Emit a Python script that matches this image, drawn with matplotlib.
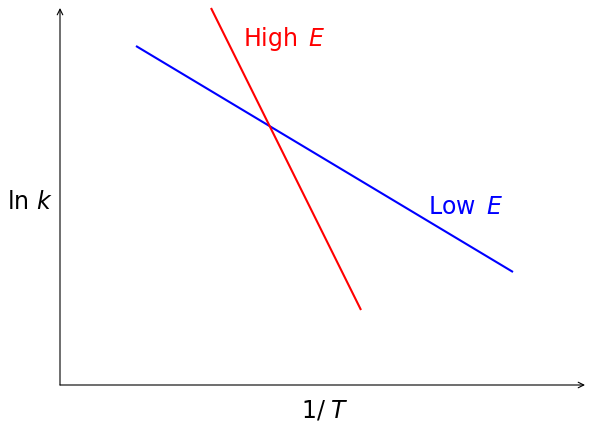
import matplotlib
matplotlib.use('Agg')
import matplotlib.pyplot as plt

plt.rcParams['mathtext.fontset'] = 'dejavusans'
plt.rcParams['font.family'] = 'DejaVu Sans'

# lines in axis units (x: 1/T, y: ln k), origin at the axes corner
low_x = [76, 453]
low_y = [339, 113]
high_x = [151, 301]
high_y = [377, 75]

fig = plt.figure(figsize=(5.89, 4.25), dpi=100)
ax = fig.add_axes([60 / 589, 40 / 425, 525 / 589, 377 / 425])
ax.set_xlim(0, 525)
ax.set_ylim(0, 377)
ax.axis('off')

ax.plot(low_x, low_y, color='#0000ff', lw=1.5, solid_capstyle='butt')
ax.plot(high_x, high_y, color='#ff0000', lw=1.5, solid_capstyle='butt', clip_on=False)

# axes with arrow heads
arr = dict(arrowstyle='->', color='black', lw=0.8, shrinkA=0, shrinkB=0)
ax.annotate('', xy=(525, 0), xytext=(0, 0), arrowprops=arr, annotation_clip=False)
ax.annotate('', xy=(0, 377), xytext=(0, 0), arrowprops=arr, annotation_clip=False)

ax.text(224, 346, r'High $\,E$', color='#ff0000', fontsize=17, ha='center', va='center')
ax.text(406, 178, r'Low $\,E$', color='#0000ff', fontsize=17, ha='center', va='center')
ax.text(-30, 183, r'ln $k$', fontsize=17, ha='center', va='center')
ax.text(265, -26, r'1/$\;T$', fontsize=17, ha='center', va='center')

fig.savefig('out.png', dpi=100)
